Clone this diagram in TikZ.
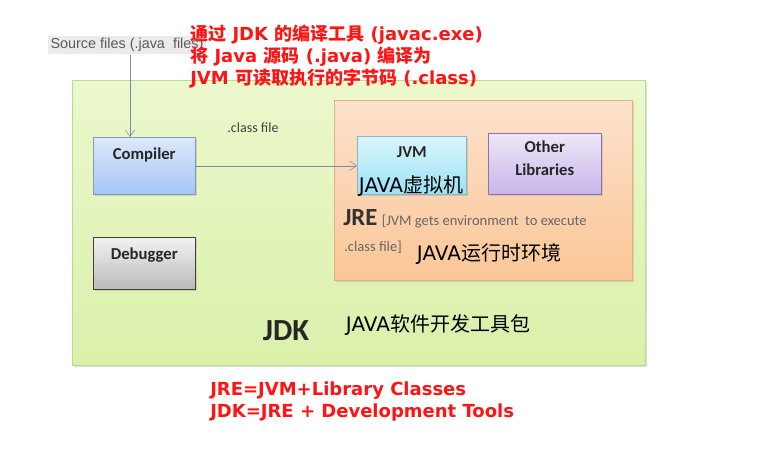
\documentclass[tikz,border=0pt]{standalone}
\usepackage{fontspec}
\setmainfont{DejaVu Sans}
\newfontfamily\cjk{Noto Sans CJK SC}
\newfontfamily\cali{Carlito}
\newfontfamily\arial{Liberation Sans}
\usetikzlibrary{arrows.meta,shadows,positioning}

\newcommand\zh[1]{{\cjk #1}}

\definecolor{jdkline}{RGB}{190,215,150}
\definecolor{jreline}{RGB}{235,175,125}
\definecolor{arrowgray}{RGB}{120,140,165}
\definecolor{notered}{RGB}{255,20,20}

\tikzset{
  box/.style={draw, anchor=north west, inner sep=0pt,
    drop shadow={opacity=0.25, shadow xshift=1.5pt, shadow yshift=-1.5pt}},
  boxlabel/.style={inner sep=0pt, font=\cali\bfseries\fontsize{12.5}{14}\selectfont, align=center, text=black!85},
  feed/.style={draw=arrowgray, thin, -{Straight Barb[length=5pt, width=7pt]}},
  zhnote/.style={inner sep=0pt, font=\fontsize{15}{17}\selectfont},
  rednote/.style={inner sep=0pt, anchor=north west, align=left, text=notered,
    font=\bfseries\fontsize{13.5}{16.5}\selectfont},
}

\begin{document}
\begin{tikzpicture}[x=0.75pt,y=-0.75pt]
  \useasboundingbox (0,0) rectangle (770,460);

  % outer and inner environments
  \node[box, draw=jdkline, top color={rgb,255:red,236;green,248;blue,205}, bottom color={rgb,255:red,218;green,240;blue,170},
    minimum width=429.75pt, minimum height=213.75pt] (jdk) at (72,80) {};
  \node[box, draw=jreline, top color={rgb,255:red,253;green,226;blue,205}, bottom color={rgb,255:red,250;green,198;blue,150},
    minimum width=223.5pt, minimum height=135pt] (jre) at (334,100) {};

  % tool boxes
  \node[box, draw={rgb,255:red,120;green,155;blue,200}, top color={rgb,255:red,222;green,233;blue,251}, bottom color={rgb,255:red,165;green,196;blue,245},
    minimum width=76.5pt, minimum height=42.75pt] (compiler) at (93,137) {};
  \node[box, draw=black!75, top color=black!5, bottom color=black!27,
    minimum width=76.5pt, minimum height=39pt] (debugger) at (93,237) {};
  \node[box, draw={rgb,255:red,130;green,185;blue,200}, top color={rgb,255:red,218;green,245;blue,251}, bottom color={rgb,255:red,155;green,226;blue,244},
    minimum width=81.75pt, minimum height=43.5pt] (jvm) at (357,136) {};
  \node[box, draw={rgb,255:red,140;green,115;blue,170}, top color={rgb,255:red,238;green,230;blue,248}, bottom color={rgb,255:red,200;green,182;blue,234},
    minimum width=84.75pt, minimum height=45.75pt] (libs) at (488,133) {};

  \node[boxlabel, below=8pt of compiler.north] (compilertext) {Compiler};
  \node[boxlabel, below=8pt of debugger.north] (debuggertext) {Debugger};
  \node[boxlabel, below=8pt of jvm.north] (jvmtext) {JVM};
  \node[boxlabel, below=6pt of libs.north, font=\cali\bfseries\fontsize{12.5}{17}\selectfont] (libstext) {Other\\Libraries};

  % source files feeding the compiler
  \node[fill=black!8, inner sep=2pt, text=black!65, font=\arial\fontsize{10.8}{12}\selectfont] (src) at (127,45) {Source files (.java\ \ files)};
  \coordinate (srcfoot) at (130,55);
  \draw[feed] (srcfoot) -- (srcfoot |- compiler.north);
  \draw[feed] (compiler.east) -- (compiler.east -| jvm.west);
  \node[inner sep=0pt, text=black!75, font=\cali\fontsize{10.5}{12}\selectfont] (classfile) at (253,128) {.class file};

  % JRE caption
  \node[inner sep=0pt, anchor=base west, text=black!80, font=\cali\bfseries\fontsize{18.5}{20}\selectfont] (jretitle) at (343,225) {JRE};
  \node[inner sep=0pt, anchor=base west, text=black!60, font=\cali\fontsize{10.9}{12}\selectfont] (jrenote) at ([xshift=3pt]jretitle.base east) {[JVM gets environment\ \ to execute};
  \node[inner sep=0pt, anchor=base west, text=black!60, font=\cali\fontsize{10.9}{12}\selectfont] (jrenote2) at (344,251) {.class file]};

  % JDK caption
  \node[inner sep=0pt, text=black!85, font=\cali\bfseries\fontsize{23}{26}\selectfont] (jdktitle) at (286,331) {JDK};

  % chinese names
  \node[zhnote] (jvmzh) at (411,186) {JAVA\zh{虚拟机}};
  \node[zhnote] (jrezh) at (489,254) {JAVA\zh{运行时环境}};
  \node[zhnote] (jdkzh) at (438,325) {JAVA\zh{软件开发工具包}};

  % red notes
  \node[rednote] (topnote) at (190,25) {\zh{通过} JDK \zh{的编译工具} (javac.exe)\\
    \zh{将} Java \zh{源码} (.java) \zh{编译为}\\
    JVM \zh{可读取执行的字节码} (.class)};
  \node[rednote] (bottomnote) at (210,382) {JRE=JVM+Library Classes\\JDK=JRE + Development Tools};
\end{tikzpicture}
\end{document}
